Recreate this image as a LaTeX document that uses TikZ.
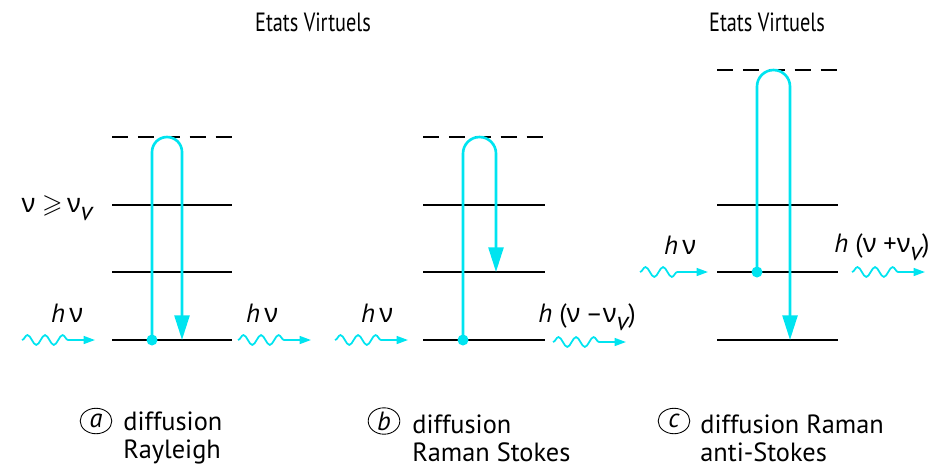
\documentclass[tikz,border=0pt]{standalone}
\usepackage{amssymb}
\usepackage{fontspec}
\setmainfont{PT Sans}
\newfontfamily\grfont{Noto Sans}
\newfontfamily\narrowfont{PT Sans}[FakeStretch=0.77]
\usetikzlibrary{arrows.meta,decorations.pathmorphing,shapes.geometric}

\definecolor{photoncyan}{RGB}{0,228,240}
\newcommand{\fnu}{{\grfont ν}}
\newcommand{\subv}{\raisebox{-0.6ex}{\itshape v}}

\tikzset{
  level/.style={line width=1.1pt},
  virtual/.style={line width=1.1pt, dash pattern=on 9.07pt off 5.67pt},
  trans/.style={photoncyan, line width=1.5pt},
  down/.style={trans, -{Triangle[length=14pt,width=8.5pt]}},
  photon/.style={photoncyan, line width=1pt, decorate,
    decoration={snake, amplitude=2.8pt, segment length=10pt, post length=13pt},
    -{Triangle[length=6.5pt,width=4.5pt]}},
  lab/.style={font=\fontsize{15}{16}\selectfont, inner sep=0pt},
  title/.style={font=\narrowfont\fontsize{15}{17}\selectfont, inner sep=0pt},
  letter/.style={draw, ellipse, line width=0.5pt, minimum width=18pt, minimum height=14.5pt,
    inner sep=0pt, font=\fontsize{15}{16}\selectfont\itshape},
  caption/.style={lab, anchor=west, align=left}
}

\begin{document}
\begin{tikzpicture}[x=0.02cm,y=-0.02cm]
\useasboundingbox (0,0) rectangle (943,468);

\node[title] (ev1) at (313,22) {Etats Virtuels};
\node[title] (ev2) at (767,22) {Etats Virtuels};

% (a) Rayleigh
\draw[virtual] (112,137) -- (232,137);
\draw[level] (112,205) -- (232,205);
\draw[level] (112,272) -- (232,272);
\draw[level] (112,340) -- (232,340);
\coordinate (a0) at (152,340);
\coordinate (a1) at (182,340);
\draw[down] (a0) -- (152,152) arc[start angle=180, end angle=360, radius=15] -- (a1);
\fill[photoncyan] (a0) circle[radius=5.5];
\node[lab] (cond) at (57,208) {\fnu\ $\geqslant$\,\fnu\subv};
\coordinate (ain1) at (22,340);
\coordinate (ain2) at (95,340);
\coordinate (aout1) at (238,340);
\coordinate (aout2) at (311,340);
\draw[photon] (ain1) -- (ain2);
\draw[photon] (aout1) -- (aout2);
\node[lab] (hna) at (67,313) {\textit{h}\,\fnu};
\node[lab] (hnb) at (262,313) {\textit{h}\,\fnu};
\node[letter] (la) at (96,421) {a};
\node[caption] (ca) at (123,438) {diffusion\\Rayleigh};

% (b) Raman Stokes
\draw[virtual] (423,137) -- (545,137);
\draw[level] (423,205) -- (545,205);
\draw[level] (423,272) -- (545,272);
\draw[level] (423,340) -- (545,340);
\coordinate (b0) at (463,340);
\coordinate (b1) at (496,272);
\draw[down] (b0) -- (463,153.5) arc[start angle=180, end angle=360, radius=16.5] -- (b1);
\fill[photoncyan] (b0) circle[radius=5.5];
\coordinate (bin1) at (335,340);
\coordinate (bin2) at (408,340);
\coordinate (bout1) at (553,342);
\coordinate (bout2) at (626,342);
\draw[photon] (bin1) -- (bin2);
\draw[photon] (bout1) -- (bout2);
\node[lab] (hnc) at (377,313) {\textit{h}\,\fnu};
\node[lab] (hnd) at (587,317) {\textit{h} (\fnu\ \kern-1pt--\fnu\subv)};
\node[letter] (lb) at (384,421) {b};
\node[caption] (cb) at (412,438) {diffusion\\Raman Stokes};

% (c) Raman anti-Stokes
\draw[virtual] (717,70) -- (838,70);
\draw[level] (717,205) -- (838,205);
\draw[level] (717,272) -- (838,272);
\draw[level] (717,340) -- (838,340);
\coordinate (c0) at (757,272);
\coordinate (c1) at (790,340);
\draw[down] (c0) -- (757,86.5) arc[start angle=180, end angle=360, radius=16.5] -- (c1);
\fill[photoncyan] (c0) circle[radius=5.5];
\coordinate (cin1) at (640,272);
\coordinate (cin2) at (708,272);
\coordinate (cout1) at (852,272);
\coordinate (cout2) at (925,272);
\draw[photon] (cin1) -- (cin2);
\draw[photon] (cout1) -- (cout2);
\node[lab] (hne) at (680,245) {\textit{h}\,\fnu};
\node[lab] (hnf) at (882,247) {\textit{h} (\fnu\ +\fnu\subv)};
\node[letter] (lc) at (674,421) {c};
\node[caption] (cc) at (700,438) {diffusion Raman\\anti-Stokes};
\end{tikzpicture}
\end{document}
